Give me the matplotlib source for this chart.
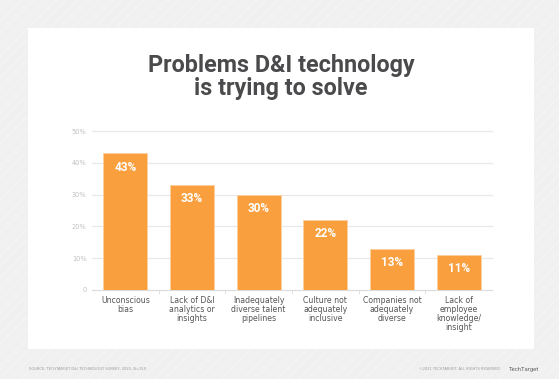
import matplotlib
matplotlib.use("Agg")
import matplotlib.pyplot as plt
from matplotlib.patches import Rectangle
from matplotlib.ticker import FixedLocator

categories = ["Unconscious\nbias", "Lack of D&I\nanalytics or\ninsights",
              "Inadequately\ndiverse talent\npipelines", "Culture not\nadequately\ninclusive",
              "Companies not\nadequately\ndiverse", "Lack of\nemployee\nknowledge/\ninsight"]
values = [43, 33, 30, 22, 13, 11]
yticks = [0, 10, 20, 30, 40, 50]
ytick_labels = ["0", "10%", "20%", "30%", "40%", "50%"]
title = "Problems D&I technology\nis trying to solve"
source = "SOURCE: TECHTARGET D&I TECHNOLOGY SURVEY, 2020, N=159"
copyright_text = "©2021 TECHTARGET. ALL RIGHTS RESERVED"

W, H = 559, 379
fig = plt.figure(figsize=(W / 100, H / 100), dpi=100)
fig.patch.set_facecolor("#f0f0f0")

# hatched background
bg = fig.add_axes([0, 0, 1, 1], zorder=-10)
bg.set_xlim(0, W); bg.set_ylim(H, 0); bg.axis("off")
bg.add_patch(Rectangle((0, 0), W, H, facecolor="#f0f0f0", edgecolor="#f4f4f4",
                       hatch="///", linewidth=0))
bg.add_patch(Rectangle((28, 28), 506, 321, facecolor="white", edgecolor="none"))

tfont = ["Roboto", "DejaVu Sans"]

bg.text(281, 77, title, ha="center", va="center", fontsize=16.8, fontweight="bold",
        color="#4a4a4c", family=tfont, linespacing=0.98)
bg.text(29, 369, source, ha="left", va="center", fontsize=2.6, color="#9a9a9a")
bg.text(500, 369, copyright_text, ha="right", va="center", fontsize=2.6, color="#9a9a9a")
bg.text(509, 369, "TechTarget", ha="left", va="center", fontsize=4.3, color="#666666",
        family=tfont)

ax = fig.add_axes([92 / W, 89 / H, 400 / W, 159 / H])
ax.set_facecolor("none")
x = range(len(values))
bars = ax.bar(x, values, width=0.66, color="#f99f3e", edgecolor="#fcd0a0",
              linewidth=0.6, zorder=3)
ax.set_xlim(-0.5, len(values) - 0.5)
ax.set_ylim(0, 50)
ax.set_yticks(yticks)
ax.set_yticklabels(ytick_labels)
ax.yaxis.grid(True, color="#e8e8e8", linewidth=0.9, zorder=0)
for s in ["top", "right", "left"]:
    ax.spines[s].set_visible(False)
ax.spines["bottom"].set_color("#dddddd")
ax.spines["bottom"].set_linewidth(0.8)
ax.tick_params(axis="y", length=0, labelsize=4.8, labelcolor="#c0c0c0", pad=4)
ax.set_xticks(list(x))
ax.set_xticklabels(categories, fontsize=5.6, color="#555555", linespacing=1.0)
ax.tick_params(axis="x", length=0, pad=4)
ax.xaxis.set_minor_locator(FixedLocator([i + 0.5 for i in range(len(values) - 1)]))
ax.tick_params(axis="x", which="minor", length=3, color="#dddddd", width=0.6)
for gl in ax.get_ygridlines():
    gl.set_clip_on(False)

for xi, v in zip(x, values):
    ax.annotate(f"{v}%", (xi, v), xytext=(0, -10), textcoords="offset points",
                ha="center", va="center", color="white", fontsize=8.5,
                fontweight="bold", family=tfont, zorder=4)

fig.savefig("out.png", dpi=100, facecolor=fig.get_facecolor())
